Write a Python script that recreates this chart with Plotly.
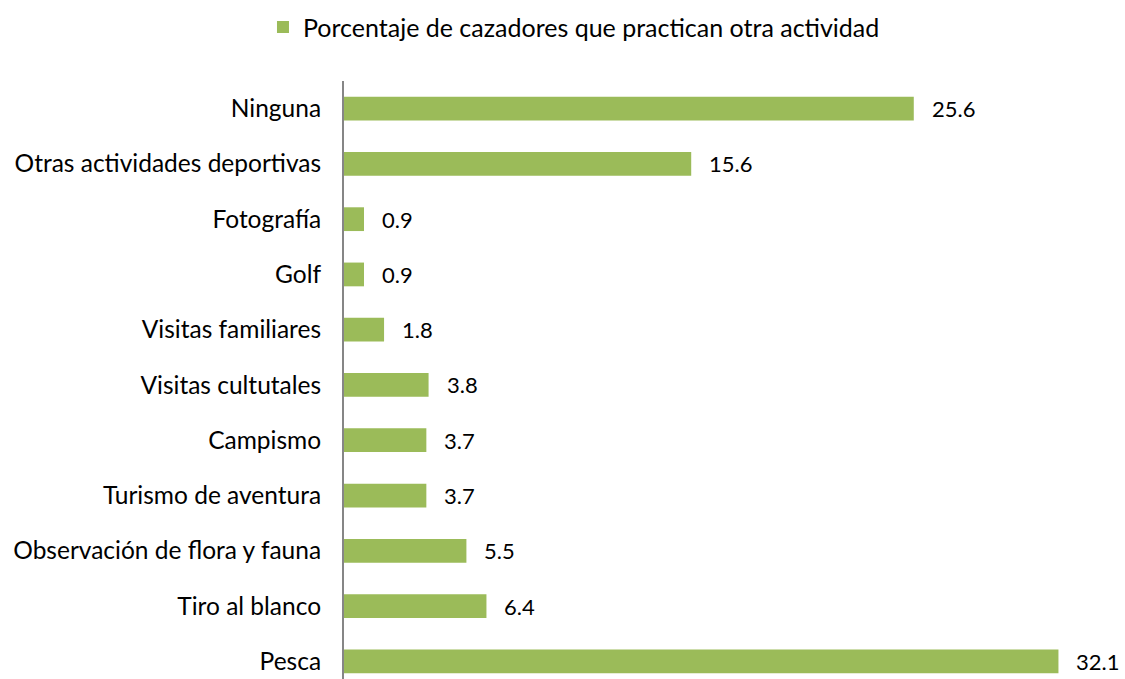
import plotly.graph_objects as go

categories = ["Pesca", "Tiro al blanco", "Observación de flora y fauna", "Turismo de aventura",
              "Campismo", "Visitas cultutales", "Visitas familiares", "Golf", "Fotografía",
              "Otras actividades deportivas", "Ninguna"]
values = [32.1, 6.4, 5.5, 3.7, 3.7, 3.8, 1.8, 0.9, 0.9, 15.6, 25.6]
series_name = "Porcentaje de cazadores que practican otra actividad"

FONT = "Lato, Calibri, sans-serif"

fig = go.Figure(go.Bar(
    y=categories, x=values, orientation="h", name=series_name,
    marker=dict(color="#9BBB59", line=dict(width=0)),
    showlegend=True, width=0.43,
))

for c, v in zip(categories, values):
    fig.add_annotation(x=v, y=c, xref="x", yref="y", text=f"{v:.1f}",
                       showarrow=False, xanchor="left", yanchor="middle", xshift=16,
                       font=dict(size=22, family=FONT, color="#000000"))

fig.update_layout(
    width=1125, height=679,
    margin=dict(l=344, r=2, t=81, b=0),
    paper_bgcolor="white", plot_bgcolor="white",
    font=dict(family=FONT, size=24, color="#000000"),
    showlegend=True,
    legend=dict(orientation="h", x=-0.104, xanchor="left", y=1.09, yref="paper",
                yanchor="middle", font=dict(size=25, family=FONT),
                itemwidth=30, bgcolor="rgba(0,0,0,0)"),
    xaxis=dict(range=[0, 35], showgrid=False, showticklabels=False, zeroline=False,
               showline=False, ticks=""),
    yaxis=dict(categoryorder="array", categoryarray=categories, range=[-0.32, 10.5],
               showgrid=False, zeroline=False, showline=True, linecolor="#868686",
               linewidth=2, ticks="", ticklabelstandoff=16,
               tickfont=dict(size=24.5, family=FONT)),
)

fig.write_html("out.html", config={"displayModeBar": False},
               post_script="document.body.style.margin='0';")
